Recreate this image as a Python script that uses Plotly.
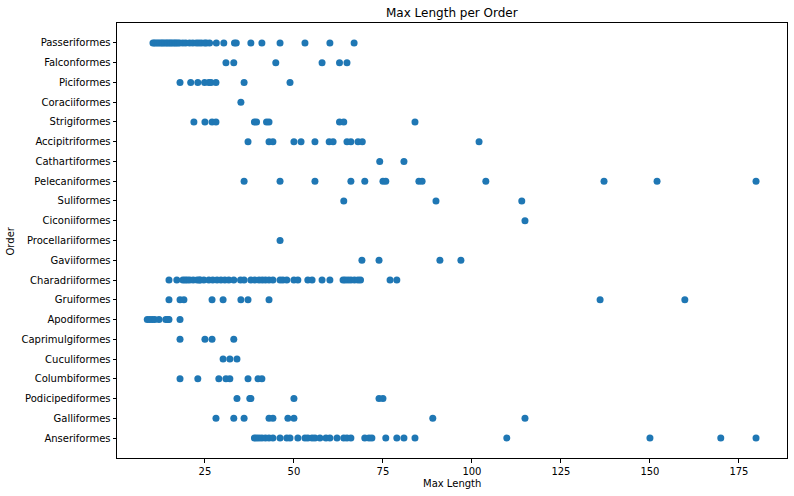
import plotly.graph_objects as go

orders = ["Passeriformes", "Falconformes", "Piciformes", "Coraciiformes", "Strigiformes",
          "Accipitriformes", "Cathartiformes", "Pelecaniformes", "Suliformes", "Ciconiiformes",
          "Procellariiformes", "Gaviiformes", "Charadriiformes", "Gruiformes", "Apodiformes",
          "Caprimulgiformes", "Cuculiformes", "Columbiformes", "Podicipediformes", "Galliformes",
          "Anseriformes"]

passeriformes = [10.4, 10.8, 11.3, 11.8, 12.3, 12.8, 13.2, 13.7, 14.2, 14.6, 15.1, 15.5, 16.0, 16.5,
                 16.9, 17.4, 17.9, 18.8, 19.6, 20.7, 21.6, 22.6, 23.3, 24.0, 24.9, 25.4, 26.3,
                 28.2, 30.3, 33.3, 33.8, 37.9, 41.0, 46.1, 53.1, 60.1, 66.9]
falconformes = [30.9, 33.1, 44.9, 57.9, 62.8, 64.9]
piciformes = [18.0, 21.0, 23.0, 24.9, 26.1, 26.7, 28.1, 36.0, 48.9]
coraciiformes = [35.1]
strigiformes = [21.9, 25.0, 27.0, 28.1, 38.9, 39.5, 42.3, 43.0, 62.8, 64.0, 84.0]
accipitriformes = [37.1, 43.0, 44.1, 50.0, 52.0, 55.9, 59.9, 61.0, 64.9, 66.0, 68.0, 69.2, 102.0]
cathartiformes = [74.1, 80.9]
pelecaniformes = [36.0, 46.1, 55.9, 66.0, 69.9, 75.0, 75.8, 85.1, 86.0, 103.9, 137.1, 152.0, 179.8]
suliformes = [64.0, 89.9, 114.0]
ciconiiformes = [114.9]
procellariiformes = [46.1]
gaviiformes = [69.1, 73.9, 91.0, 96.9]
charadriiformes = [14.9, 17.1, 18.8, 19.4, 20.0, 20.7, 21.7, 22.8, 23.4, 23.7, 24.7, 26.1, 27.2,
                   28.4, 29.5, 30.6, 31.7, 33.1, 35.0, 36.0, 37.9, 39.0, 40.2, 41.1, 42.0, 43.0,
                   44.1, 46.1, 46.9, 48.0, 50.0, 51.1, 53.9, 55.1, 57.9, 60.1, 63.8, 64.4, 65.2,
                   66.0, 67.0, 68.0, 68.7, 77.0, 78.9]
gruiformes = [14.9, 18.0, 19.1, 27.0, 30.1, 35.1, 37.1, 43.0, 136.0, 159.8]
apodiformes = [8.8, 9.5, 10.2, 10.9, 12.1, 14.0, 14.6, 14.9, 18.0]
caprimulgiformes = [18.0, 25.0, 27.0, 33.1]
cuculiformes = [30.1, 32.0, 34.0]
columbiformes = [18.0, 23.0, 28.9, 30.9, 32.0, 37.1, 39.9, 41.0]
podicipediformes = [34.0, 37.6, 37.9, 50.0, 73.9, 75.0]
galliformes = [28.1, 33.1, 36.0, 43.0, 44.1, 48.3, 50.0, 89.0, 114.9]
anseriformes = [38.9, 39.5, 40.2, 41.0, 42.0, 43.0, 44.1, 46.1, 48.0, 48.9, 51.1, 53.1, 53.9, 55.1,
                55.9, 57.3, 59.0, 60.1, 62.1, 64.0, 64.9, 66.0, 69.9, 71.1, 71.9, 75.8, 78.9,
                80.9, 84.0, 109.8, 150.0, 169.9, 179.8]

series = [passeriformes, falconformes, piciformes, coraciiformes, strigiformes, accipitriformes,
          cathartiformes, pelecaniformes, suliformes, ciconiiformes, procellariiformes,
          gaviiformes, charadriiformes, gruiformes, apodiformes, caprimulgiformes, cuculiformes,
          columbiformes, podicipediformes, galliformes, anseriformes]

xs, ys = [], []
for name, vals in zip(orders, series):
    xs.extend(vals)
    ys.extend([name] * len(vals))

fig = go.Figure(go.Scatter(
    x=xs, y=ys, mode="markers",
    marker=dict(color="#1f77b4", size=7, line=dict(color="white", width=0)),
))

W, H = 794, 496
L, R, T, B = 117, 7, 23, 38
font = "DejaVu Sans"
fig.update_layout(
    width=W, height=H,
    margin=dict(l=L, r=R, t=T, b=B, autoexpand=False),
    plot_bgcolor="white", paper_bgcolor="white",
    font=dict(family=font, size=10, color="black"),
    showlegend=False,
    xaxis=dict(range=[0.3, 188.5], tickvals=[25, 50, 75, 100, 125, 150, 175],
               showgrid=False, zeroline=False, showline=True, linecolor="black", linewidth=1,
               mirror=True, ticks="outside", ticklen=3.5, tickcolor="black", automargin=False),
    yaxis=dict(type="category", categoryorder="array", categoryarray=orders,
               range=[len(orders) - 1 + 1.01, -1.01],
               showgrid=False, zeroline=False, showline=True, linecolor="black", linewidth=1,
               mirror=True, ticks="outside", ticklen=3.5, tickcolor="black", automargin=False),
    annotations=[
        dict(text="Max Length per Order", xref="paper", yref="paper", x=0.5,
             y=1 + (T - 13) / (H - T - B), xanchor="center", yanchor="middle",
             showarrow=False, font=dict(size=12, color="black")),
        dict(text="Max Length", xref="paper", yref="paper", x=0.5,
             y=-(483 - (H - B)) / (H - T - B), xanchor="center", yanchor="middle",
             showarrow=False, font=dict(size=10, color="black")),
        dict(text="Order", xref="paper", yref="paper", x=-(L - 10) / (W - L - R),
             y=0.5, xanchor="center", yanchor="middle", textangle=-90,
             showarrow=False, font=dict(size=10, color="black")),
    ],
)

fig.write_html("out.html", config={"displayModeBar": False},
               post_script="document.body.style.margin='0px';document.body.style.overflow='hidden';")
